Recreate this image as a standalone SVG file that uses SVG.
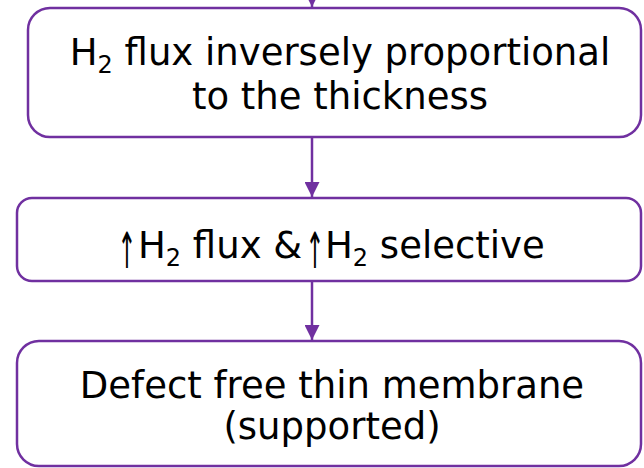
<svg xmlns="http://www.w3.org/2000/svg" width="644" height="468" viewBox="0 0 644 468">
<defs>
<style>
.box{fill:#fff;stroke:#7030A0;stroke-width:2.5}
.t{font-family:"DejaVu Sans",Verdana,sans-serif;font-size:37px;fill:#000;text-anchor:middle}
.s{text-anchor:start}
.sub{font-size:24px}
.ar{font-family:"DejaVu Sans",sans-serif;font-size:50px;fill:#000;text-anchor:middle}
.c{stroke:#7030A0;stroke-width:2.5;fill:none}
</style>
<marker id="ah" viewBox="0 0 10 10" refX="10" refY="5" markerWidth="6" markerHeight="6" markerUnits="strokeWidth" orient="auto">
<path d="M0,0 L10,5 L0,10 Z" fill="#7030A0"/>
</marker>
</defs>
<rect width="644" height="468" fill="#fff"/>
<g id="connectors">
<line class="c" x1="312" y1="-10" x2="312" y2="7" marker-end="url(#ah)"/>
<line class="c" x1="312" y1="137" x2="312" y2="197" marker-end="url(#ah)"/>
<line class="c" x1="312" y1="281" x2="312" y2="340" marker-end="url(#ah)"/>
</g>
<g id="node1">
<rect class="box" x="28" y="8" width="613" height="129" rx="22"/>
<text class="t" x="340" y="65">H<tspan class="sub" dy="8">2</tspan><tspan dy="-8"> flux inversely proportional</tspan></text>
<text class="t" x="340" y="109">to the thickness</text>
</g>
<g id="node2">
<rect class="box" x="17" y="198" width="624" height="83" rx="15"/>
<text class="ar" transform="translate(127,268) scale(0.45,1)">↑</text>
<text class="t s" x="138" y="258">H<tspan class="sub" dy="8">2</tspan><tspan dy="-8"> flux &amp;</tspan></text>
<text class="ar" transform="translate(315,268) scale(0.45,1)">↑</text>
<text class="t s" x="325" y="258">H<tspan class="sub" dy="8">2</tspan><tspan dy="-8"> selective</tspan></text>
</g>
<g id="node3">
<rect class="box" x="17" y="341" width="624" height="125" rx="22"/>
<text class="t" x="332" y="398">Defect free thin membrane</text>
<text class="t" x="332" y="439">(supported)</text>
</g>
</svg>
